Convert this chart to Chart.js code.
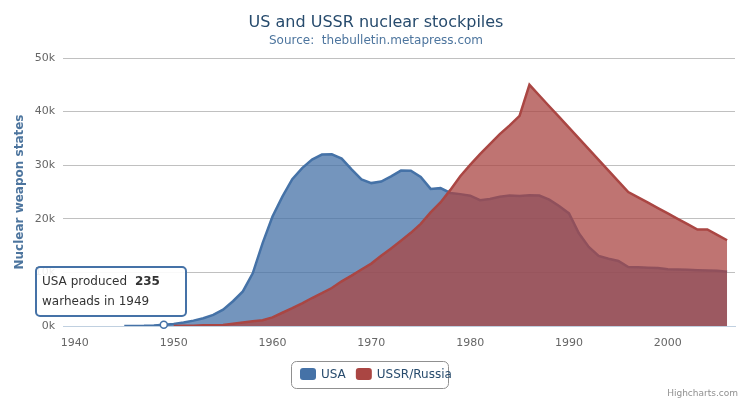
<!DOCTYPE html>
<html><head><meta charset="utf-8">
<script src="https://cdn.jsdelivr.net/npm/chart.js@4"></script>
<style>html,body{margin:0;padding:0;background:#fff}#w{width:753px;height:401px}</style>
</head><body><div id="w"><canvas id="c"></canvas></div>
<script>
const years = [];
for (let y = 1940; y <= 2006; y++) years.push(y);
const usa = [null,null,null,null,null,6,11,32,110,235,369,640,1005,1436,2063,3057,4618,6444,9822,15468,20434,24126,27387,29459,31056,31982,32040,31233,29224,27342,26662,26956,27912,28999,28965,27826,25579,25722,24826,24605,24304,23464,23708,24099,24357,24237,24401,24344,23586,22380,21004,17287,14747,13076,12555,12144,11009,10950,10871,10824,10577,10527,10475,10421,10358,10295,10104];
const ussr = [null,null,null,null,null,null,null,null,null,null,5,25,50,120,150,200,426,660,869,1060,1605,2471,3322,4238,5221,6129,7089,8339,9399,10538,11643,13092,14478,15915,17385,19055,21205,23044,25393,27935,30062,32049,33952,35804,37431,39197,45000,43000,41000,39000,37000,35000,33000,31000,29000,27000,25000,24000,23000,22000,21000,20000,19000,18000,18000,17000,16000];
const xTicks = [1940,1950,1960,1970,1980,1990,2000];
const yTicks = [0,10000,20000,30000,40000,50000];
const seriesNames = ['USA','USSR/Russia'];
const lineColors = ['#4572A7','#AA4643'];
const fillColors = ['rgba(69,114,167,0.75)','rgba(170,70,67,0.75)'];

const pts = arr => years.map((y,i)=>({x:y,y:arr[i]}));

const deco = {
  id:'deco',
  afterDraw(ch){
    const c = ch.ctx, xs = ch.scales.x, ys = ch.scales.y;
    c.save();
    c.textAlign='center'; c.textBaseline='alphabetic';
    c.fillStyle='#274b6d'; c.font='16px "Lucida Grande","DejaVu Sans",sans-serif';
    c.fillText('US and USSR nuclear stockpiles', 376, 27);
    c.fillStyle='#4d759e'; c.font='12px "DejaVu Sans",sans-serif';
    c.fillText('Source:  thebulletin.metapress.com', 376, 44);
    c.save(); c.translate(23, 192); c.rotate(-Math.PI/2);
    c.fillStyle='#4d759e'; c.font='bold 12px "DejaVu Sans",sans-serif';
    c.fillText('Nuclear weapon states', 0, 0); c.restore();
    const lx=291, ly=361, lw=157, lh=27;
    c.strokeStyle='#909090'; c.lineWidth=1; c.fillStyle='#fff';
    c.beginPath(); c.roundRect(lx+0.5,ly+0.5,lw,lh,5); c.fill(); c.stroke();
    c.font='12px "DejaVu Sans",sans-serif'; c.textAlign='left'; c.textBaseline='middle';
    let px = lx+9;
    seriesNames.forEach((n,i)=>{
      c.fillStyle=lineColors[i]; c.beginPath(); c.roundRect(px,ly+7,16,12,3); c.fill();
      c.fillStyle='#274b6d'; c.fillText(n, px+21, ly+14);
      px += 21 + c.measureText(n).width + 10;
    });
    c.textAlign='right'; c.fillStyle='#909090'; c.font='9px "DejaVu Sans",sans-serif';
    c.fillText('Highcharts.com', 738, 394);
    const hx = xs.getPixelForValue(years[9]), hy = ys.getPixelForValue(usa[9]);
    c.fillStyle='#fff'; c.strokeStyle=lineColors[0]; c.lineWidth=1.5;
    c.beginPath(); c.arc(hx,hy,3.5,0,Math.PI*2); c.fill(); c.stroke();
    const bx=36,by=267,bw=150,bh=49;
    c.fillStyle='rgba(255,255,255,0.9)'; c.lineWidth=2;
    c.beginPath(); c.roundRect(bx,by,bw,bh,4); c.fill(); c.stroke();
    c.textAlign='left'; c.fillStyle='#333'; c.font='12px "DejaVu Sans",sans-serif';
    c.fillText('USA produced ', bx+6, by+15);
    const w1 = c.measureText('USA produced ').width;
    c.font='bold 12px "DejaVu Sans",sans-serif';
    c.fillText(String(usa[9]), bx+6+w1+4, by+15);
    c.font='12px "DejaVu Sans",sans-serif';
    c.fillText('warheads in '+years[9], bx+6, by+35);
    c.restore();
  }
};

new Chart(document.getElementById('c'), {
  type:'line',
  data:{datasets:[
    {label:seriesNames[0], data:pts(usa), borderColor:lineColors[0], backgroundColor:fillColors[0], fill:'origin', borderWidth:2.5, pointRadius:0, tension:0, order:1},
    {label:seriesNames[1], data:pts(ussr), borderColor:lineColors[1], backgroundColor:fillColors[1], fill:'origin', borderWidth:2.5, pointRadius:0, tension:0, order:0}
  ]},
  options:{
    responsive:true, maintainAspectRatio:false, animation:false,
    layout:{padding:{left:0,right:18,top:58,bottom:55}},
    plugins:{legend:{display:false}, tooltip:{enabled:false}},
    scales:{
      x:{type:'linear', min:1938.8, max:2006.8,
        afterBuildTicks:s=>{s.ticks=xTicks.map(v=>({value:v}));},
        afterFit:s=>{s.height=20;},
        grid:{display:false},
        border:{color:'#C0D0E0'},
        ticks:{color:'#666', font:{size:11,family:'"DejaVu Sans",sans-serif'}, maxRotation:0, autoSkip:false, callback:v=>String(v)}
      },
      y:{min:0,max:50000,
        afterBuildTicks:s=>{s.ticks=yTicks.map(v=>({value:v}));},
        afterFit:s=>{s.width=63;},
        grid:{color:'#C0C0C0', drawTicks:false},
        border:{display:false},
        ticks:{color:'#666', padding:8, font:{size:11,family:'"DejaVu Sans",sans-serif'}, callback:v=>(v/1000)+'k'}
      }
    }
  },
  plugins:[deco]
});
</script></body></html>
